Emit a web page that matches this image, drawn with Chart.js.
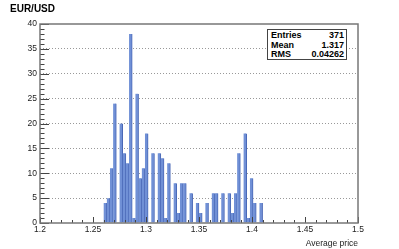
<!DOCTYPE html>
<html>
<head>
<meta charset="utf-8">
<script src="https://cdn.jsdelivr.net/npm/chart.js@4.4.1/dist/chart.umd.min.js"></script>
<style>
  html, body { margin: 0; padding: 0; background: #fff; }
  #wrap { position: relative; width: 399px; height: 249px; font-family: "Liberation Sans", Arial, sans-serif; }
  #title { position: absolute; left: 10px; top: 3px; font-size: 10px; font-weight: bold; color: #000; }
  #stats { position: absolute; left: 267px; top: 29px; width: 80px; height: 31px; box-sizing: border-box;
           border: 1px solid #444; background: #fff; font-size: 9px; font-weight: bold; padding: 1px 2px 0 3px; }
  #stats .row { display: flex; justify-content: space-between; height: 9.5px; line-height: 9.5px; }
</style>
</head>
<body>
<div id="wrap">
  <canvas id="myChart" width="399" height="249"></canvas>
  <div id="title">EUR/USD</div>
  <div id="stats"></div>
</div>
<script>
// histogram: 100 bins from 1.2 to 1.5
const xMin = 1.2;
const xMax = 1.5;
const counts = [
  0, 0, 0, 0, 0, 0, 0, 0, 0, 0,
  0, 0, 0, 0, 0, 0, 0, 0, 0, 0,
  4, 5, 11, 24, 0, 20, 14, 12, 38, 1,
  26, 9, 11, 18, 0, 14, 0, 14, 13, 1,
  12, 0, 8, 2, 8, 8, 0, 6, 0, 4,
  2, 0, 4, 0, 6, 6, 0, 6, 0, 6,
  2, 6, 14, 0, 18, 1, 9, 4, 0, 4,
  0, 0, 0, 0, 0, 0, 0, 0, 0, 0,
  0, 0, 0, 0, 0, 0, 0, 0, 0, 0,
  0, 0, 0, 0, 0, 0, 0, 0, 0, 0
];
const xTickValues = [1.2, 1.25, 1.3, 1.35, 1.4, 1.45, 1.5];
const xTickLabels = ["1.2", "1.25", "1.3", "1.35", "1.4", "1.45", "1.5"];
const statNames = ["Entries", "Mean", "RMS"];
const statValues = ["371", "1.317", "0.04262"];

const binWidth = (xMax - xMin) / counts.length;
const points = counts.map((c, i) => ({ x: xMin + binWidth * (i + 0.5), y: c }));
const font = "'Liberation Sans', Arial, sans-serif";

document.getElementById("stats").innerHTML = statNames
  .map((n, i) => `<div class="row"><span>${n}</span><span>${statValues[i]}</span></div>`)
  .join("");

// ROOT-like frame with inward tick marks
const rootFrame = {
  id: "rootFrame",
  afterDraw(chart) {
    const { ctx, chartArea: a, scales: { x, y } } = chart;
    ctx.save();
    ctx.strokeStyle = "#444";
    ctx.lineWidth = 1;
    ctx.beginPath();
    for (let v = 0; v <= 40; v++) {
      const py = Math.round(y.getPixelForValue(v)) + 0.5;
      const len = v % 5 === 0 ? 9 : 4.5;
      ctx.moveTo(a.left, py);
      ctx.lineTo(a.left + len, py);
    }
    for (let i = 0; i <= 30; i++) {
      const px = Math.round(x.getPixelForValue(xMin + i * 0.01)) + 0.5;
      const len = i % 5 === 0 ? 6 : 3;
      ctx.moveTo(px, a.bottom);
      ctx.lineTo(px, a.bottom - len);
    }
    ctx.stroke();
    ctx.strokeStyle = "#777";
    ctx.lineWidth = 1.5;
    ctx.strokeRect(a.left, a.top, a.right - a.left, a.bottom - a.top);
    ctx.restore();
  }
};

new Chart(document.getElementById("myChart"), {
  type: "bar",
  data: {
    datasets: [{
      data: points,
      backgroundColor: "#7090d6",
      borderColor: "#4a68b6",
      borderWidth: { left: 0, right: 1, top: 0, bottom: 0 },
      borderSkipped: false,
      barPercentage: 1,
      categoryPercentage: 1
    }]
  },
  options: {
    responsive: false,
    animation: false,
    layout: { padding: { top: 24, right: 41, left: 0, bottom: 0 } },
    plugins: { legend: { display: false }, tooltip: { enabled: false } },
    scales: {
      x: {
        type: "linear",
        min: xMin,
        max: xMax,
        offset: false,
        afterFit: s => { s.height = 26; },
        afterBuildTicks: s => { s.ticks = xTickValues.map(v => ({ value: v })); },
        grid: { display: false, drawTicks: false },
        border: { display: false },
        ticks: {
          autoSkip: false,
          maxRotation: 0,
          padding: 2,
          color: "#222",
          font: { family: font, size: 8.5 },
          callback: (v, i) => xTickLabels[i]
        },
        title: {
          display: true,
          text: "Average price",
          align: "end",
          color: "#222",
          font: { family: font, size: 8.5 },
          padding: { top: -3, bottom: 0 }
        }
      },
      y: {
        min: 0,
        max: 40,
        afterFit: s => { s.width = 40; },
        ticks: { stepSize: 5, padding: 3, color: "#222", font: { family: font, size: 8.5 } },
        grid: {
          drawTicks: false,
          color: c => (c.tick.value > 0 && c.tick.value < 40 ? "#999" : "rgba(0,0,0,0)")
        },
        border: { display: false, dash: [1, 2] }
      }
    }
  },
  plugins: [rootFrame]
});
</script>
</body>
</html>
